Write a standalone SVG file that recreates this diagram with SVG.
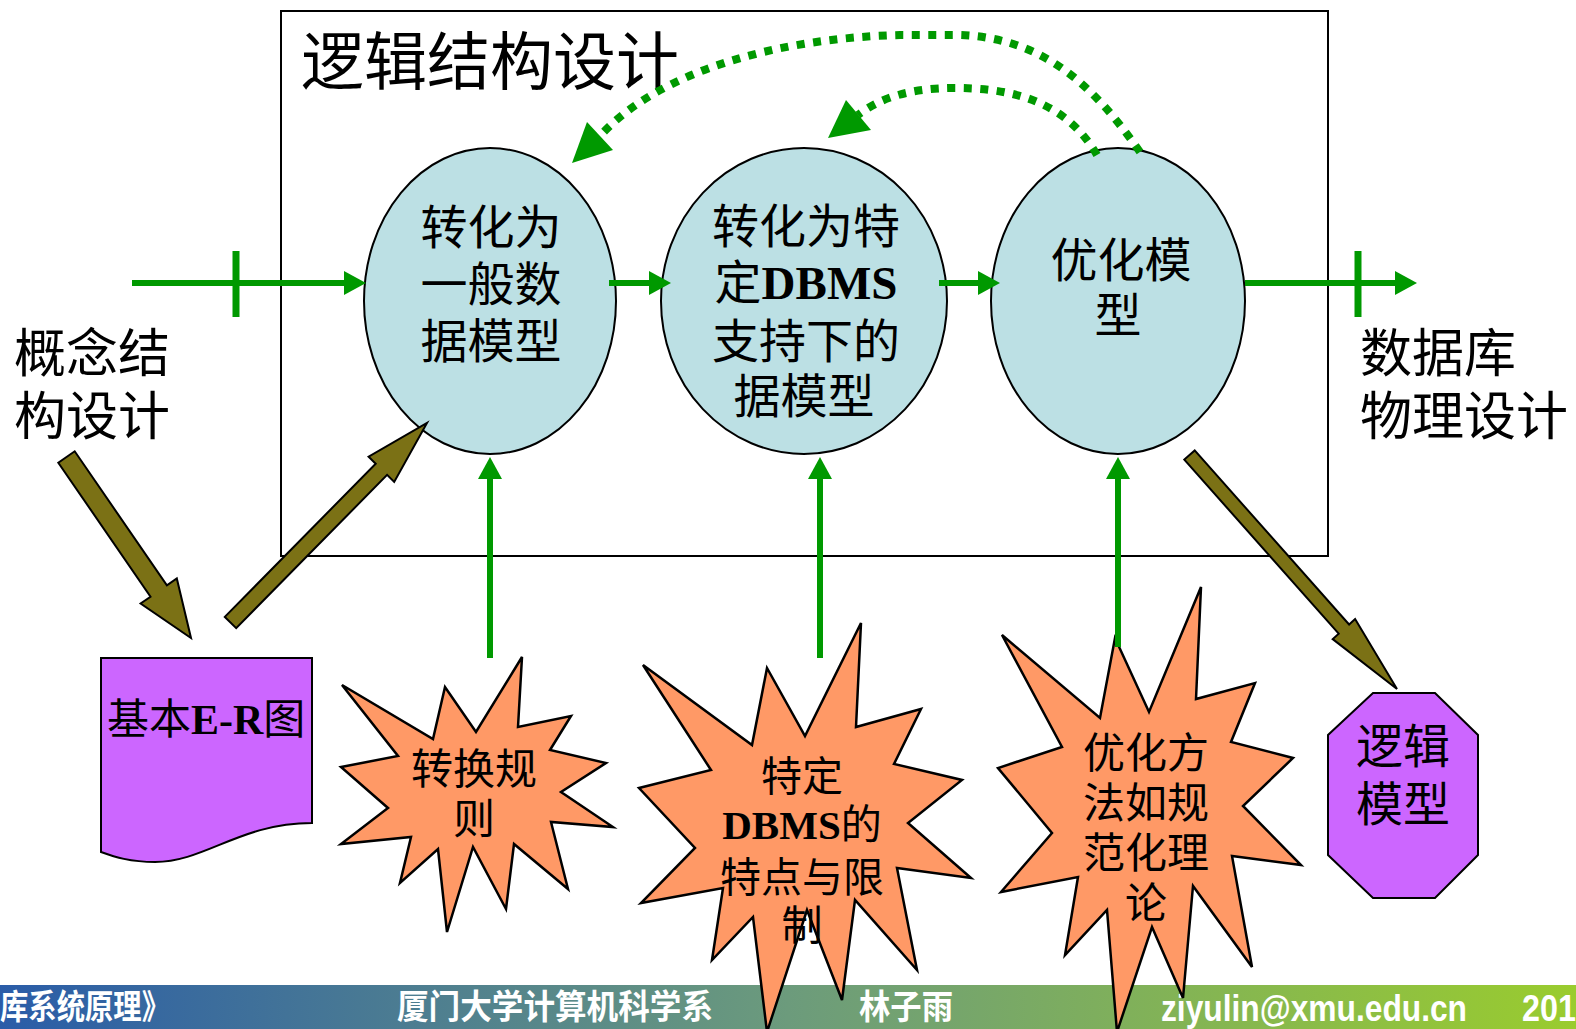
<svg xmlns="http://www.w3.org/2000/svg" width="1576" height="1029" viewBox="0 0 1576 1029">
<defs>
<linearGradient id="barGrad" x1="0" y1="0" x2="1" y2="0">
<stop offset="0" stop-color="#2A5CA8"/>
<stop offset="0.5" stop-color="#6C9B7C"/>
<stop offset="1" stop-color="#9ACC2E"/>
</linearGradient>
<marker id="ah" markerWidth="22" markerHeight="24" refX="8" refY="12" orient="auto" markerUnits="userSpaceOnUse">
<path d="M0,0 L22,12 L0,24 Z" fill="#009900"/>
</marker>
<style>
.cjk{font-family:"Noto Sans CJK SC","Noto Sans",sans-serif;fill:#000}
.lat{font-family:"Liberation Serif",serif;font-weight:bold}
.ell{fill:#BCE0E4;stroke:#000;stroke-width:2}
.star{fill:#FF9966;stroke:#000;stroke-width:2.5;stroke-linejoin:miter}
.purple{fill:#CC66FF;stroke:#000;stroke-width:2}
.gl{stroke:#009900;stroke-width:6;fill:none}
.tick{stroke:#009900;stroke-width:7}
.dot{stroke:#009900;stroke-width:8;fill:none;stroke-dasharray:8 8.5}
.olive{fill:#7B7115;stroke:#000;stroke-width:2;stroke-linejoin:miter}
.bartxt{fill:#fff;font-family:"Noto Sans CJK SC","Noto Sans",sans-serif;font-weight:bold}
.barlat{fill:#fff;font-family:"Liberation Sans",sans-serif;font-weight:bold}
</style>
</defs>
<rect width="1576" height="1029" fill="#fff"/>
<g id="footer">
<rect x="0" y="985" width="1576" height="44" fill="url(#barGrad)"/>
<text class="bartxt" x="0" y="1019" font-size="34" textLength="170" lengthAdjust="spacingAndGlyphs">库系统原理》</text>
<text class="bartxt" x="397" y="1019" font-size="34" textLength="316" lengthAdjust="spacingAndGlyphs">厦门大学计算机科学系</text>
<text class="bartxt" x="859" y="1019" font-size="34" textLength="94" lengthAdjust="spacingAndGlyphs">林子雨</text>
<text class="barlat" x="1161" y="1021" font-size="36" textLength="306" lengthAdjust="spacingAndGlyphs">ziyulin@xmu.edu.cn</text>
<text class="barlat" x="1522" y="1021" font-size="36" textLength="54" lengthAdjust="spacingAndGlyphs">201</text>
</g>
<g id="frame">
<rect x="281" y="11" width="1047" height="545" fill="none" stroke="#000" stroke-width="2"/>
<text class="cjk" x="301" y="84" font-size="63">逻辑结构设计</text>
</g>
<g id="node-general">
<ellipse class="ell" cx="490" cy="301" rx="126" ry="153"/>
<text class="cjk" font-size="47" text-anchor="middle"><tspan x="491" y="244">转化为</tspan><tspan x="491" y="301">一般数</tspan><tspan x="491" y="358">据模型</tspan></text>
</g>
<g id="node-dbms">
<ellipse class="ell" cx="804" cy="301" rx="143" ry="153"/>
<text class="cjk" font-size="47" text-anchor="middle"><tspan x="806" y="243">转化为特</tspan><tspan x="806" y="299">定<tspan class="lat">DBMS</tspan></tspan><tspan x="806" y="358">支持下的</tspan><tspan x="804" y="413">据模型</tspan></text>
</g>
<g id="node-optimize">
<ellipse class="ell" cx="1118" cy="301" rx="127" ry="153"/>
<text class="cjk" font-size="47" text-anchor="middle"><tspan x="1121" y="277">优化模</tspan><tspan x="1118" y="332">型</tspan></text>
</g>
<g id="label-conceptual">
<text class="cjk" font-size="52"><tspan x="14" y="372">概念结</tspan><tspan x="14" y="435">构设计</tspan></text>
</g>
<g id="label-physical">
<text class="cjk" font-size="52"><tspan x="1360" y="372">数据库</tspan><tspan x="1360" y="435">物理设计</tspan></text>
</g>
<g id="node-er">
<path class="purple" d="M101,658 H312 V823 C 240,823 205,862 155,862 C 130,862 115,857 101,852 Z"/>
<text class="cjk" x="107" y="734" font-size="42">基本<tspan class="lat">E-R</tspan>图</text>
</g>
<g id="node-rules">
<polygon class="star" points="342,685 433,739 445,687 476,732 522,657 518,727 571,716 550,750 606,763 561,792 613,827 551,822 568,889 514,844 506,909 473,847 447,932 438,849 400,883 411,837 341,844 388,808 341,767 398,756"/>
<text class="cjk" font-size="42" text-anchor="middle"><tspan x="474" y="784">转换规</tspan><tspan x="474" y="834">则</tspan></text>
</g>
<g id="node-features">
<polygon class="star" points="643,665 752,745 767,668 805,736 861,623 856,727 921,709 894,764 962,780 908,823 971,878 897,868 917,970 855,900 842,1000 807,910 767,1032 753,917 712,960 723,888 641,903 695,848 639,788 711,770"/>
<text class="cjk" font-size="41" text-anchor="middle"><tspan x="802" y="791">特定</tspan><tspan x="802" y="839"><tspan class="lat">DBMS</tspan>的</tspan><tspan x="802" y="892">特点与限</tspan><tspan x="802" y="940">制</tspan></text>
</g>
<g id="node-methods">
<polygon class="star" points="1002,635 1100,718 1115,638 1149,712 1201,587 1196,699 1255,683 1231,742 1293,758 1243,806 1301,865 1232,856 1252,967 1193,886 1183,998 1152,927 1117,1032 1107,910 1065,955 1078,877 1001,892 1052,833 998,768 1062,747"/>
<text class="cjk" font-size="42" text-anchor="middle"><tspan x="1146" y="768">优化方</tspan><tspan x="1146" y="818">法如规</tspan><tspan x="1146" y="868">范化理</tspan><tspan x="1146" y="918">论</tspan></text>
</g>
<g id="node-logical">
<polygon class="purple" points="1373,693 1435,693 1478,735 1478,855 1435,898 1373,898 1328,855 1328,735"/>
<text class="cjk" font-size="47" text-anchor="middle"><tspan x="1403" y="763">逻辑</tspan><tspan x="1403" y="821">模型</tspan></text>
</g>
<g id="connectors">
<line class="tick" x1="236" y1="251" x2="236" y2="317"/>
<line class="tick" x1="1358" y1="251" x2="1358" y2="317"/>
<line class="gl" x1="132" y1="283" x2="352" y2="283" marker-end="url(#ah)"/>
<line class="gl" x1="609" y1="283" x2="657" y2="283" marker-end="url(#ah)"/>
<line class="gl" x1="939" y1="283" x2="986" y2="283" marker-end="url(#ah)"/>
<line class="gl" x1="1245" y1="283" x2="1403" y2="283" marker-end="url(#ah)"/>
<line class="gl" x1="490" y1="658" x2="490" y2="471" marker-end="url(#ah)"/>
<line class="gl" x1="820" y1="658" x2="820" y2="471" marker-end="url(#ah)"/>
<line class="gl" x1="1118" y1="647" x2="1118" y2="471" marker-end="url(#ah)"/>
<path class="dot" d="M1140,152 C 1100,95 1050,38 960,35 L 900,35 C 780,38 660,70 600,136"/>
<polygon points="572,163 587,122 613,150" fill="#009900"/>
<path class="dot" d="M1097,155 C 1065,100 1010,88 955,88 C 910,88 880,98 858,115"/>
<polygon points="828,138 846,100 871,130" fill="#009900"/>
<polygon class="olive" points="58.3,462.7 150.5,596.7 140.6,603.5 191,638 176.8,578.5 166.9,585.3 74.7,451.3"/>
<polygon class="olive" points="224.8,616.9 375.7,463.7 368.6,456.7 427,423 394.2,481.9 387.1,474.9 236.2,628.1"/>
<polygon class="olive" points="1194.7,450.4 1349.1,624.5 1355.1,619.1 1397,689 1332.7,639.1 1338.7,633.7 1184.3,459.6"/>
</g>
</svg>
